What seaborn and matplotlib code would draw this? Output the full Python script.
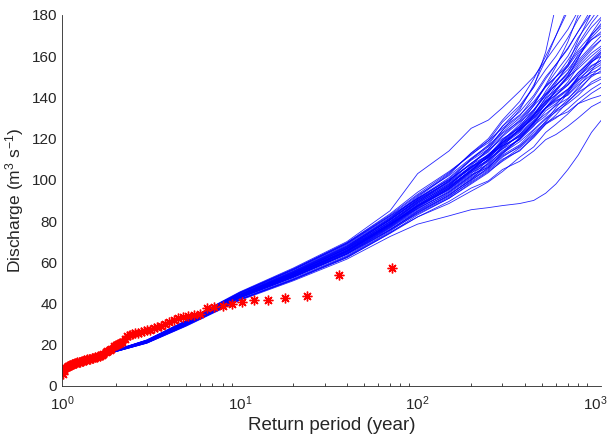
import numpy as np
import pandas as pd
import matplotlib
matplotlib.use("Agg")
import matplotlib.pyplot as plt
import seaborn as sns

obs_T = [72.0, 36.0, 24.0, 18.0, 14.4, 12.0, 10.29, 9.0, 8.0, 7.2,
         6.55, 6.0, 5.54, 5.14, 4.8, 4.5, 4.24, 4.0, 3.79, 3.6,
         3.43, 3.27, 3.13, 3.0, 2.88, 2.77, 2.67, 2.57, 2.48, 2.4,
         2.32, 2.25, 2.18, 2.12, 2.06, 2.0, 1.95, 1.89, 1.85, 1.8,
         1.76, 1.71, 1.67, 1.64, 1.6, 1.57, 1.53, 1.5, 1.47, 1.44,
         1.41, 1.38, 1.36, 1.33, 1.31, 1.29, 1.26, 1.24, 1.22, 1.2,
         1.18, 1.16, 1.14, 1.125, 1.11, 1.09, 1.075, 1.06, 1.04, 1.03, 1.014]
obs_Q = [57.1, 53.9, 43.5, 42.6, 41.8, 41.5, 40.7, 39.7, 38.6, 38.2,
         37.7, 35.0, 34.3, 33.8, 33.4, 33.0, 32.2, 30.8, 30.0, 29.3,
         28.6, 27.9, 27.3, 26.9, 26.5, 26.2, 25.9, 25.6, 25.2, 24.8,
         24.0, 22.8, 21.5, 20.8, 20.2, 19.6, 19.2, 18.0, 17.4, 16.8,
         16.4, 15.6, 15.0, 14.6, 14.4, 14.0, 13.8, 13.6, 13.4, 13.2,
         13.1, 12.9, 12.7, 12.5, 12.3, 12.1, 11.8, 11.6, 11.4, 11.2,
         11.0, 10.8, 10.5, 10.3, 10.0, 9.8, 9.5, 9.2, 8.7, 7.5, 6.0]

# simulated frequency curves: discharge at these return periods
sim_T = [1.3, 2, 3, 5, 10, 20, 40, 70, 100, 150, 200, 250, 300, 375, 450, 525,
         600, 700, 800, 950, 1080]
sim_Q = [
    [12.3, 17.0, 21.4, 30.3, 43.2, 53.6, 65.2, 78.0, 87.0, 95.5, 103.0, 110.0, 115.0, 119.5, 128.0, 134.5, 138.0, 141.5, 147.0, 153.0, 156.0],
    [12.4, 17.2, 21.9, 31.0, 44.5, 55.6, 68.0, 81.0, 90.5, 99.0, 108.0, 113.5, 121.0, 128.0, 134.0, 141.5, 146.0, 151.0, 158.0, 165.0, 170.0],
    [12.1, 16.6, 20.8, 29.2, 41.8, 51.5, 62.3, 74.0, 82.0, 89.5, 96.0, 99.5, 105.0, 109.0, 114.0, 119.5, 122.0, 126.0, 130.0, 135.5, 138.0],
    [12.4, 17.2, 21.8, 30.9, 44.2, 55.3, 67.6, 81.5, 92.0, 103.0, 113.0, 119.0, 128.0, 136.0, 145.0, 153.5, 160.0, 169.0, 178.0, 188.0, 195.0],
    [12.2, 16.8, 21.2, 30.0, 42.9, 53.0, 64.2, 76.5, 85.0, 93.5, 101.0, 106.5, 112.0, 117.0, 124.0, 129.5, 133.0, 137.0, 141.0, 147.5, 150.0],
    [12.5, 17.4, 22.2, 31.6, 45.3, 56.8, 69.5, 83.5, 94.0, 104.0, 112.0, 119.0, 125.0, 131.5, 138.0, 145.5, 150.0, 156.0, 163.0, 170.5, 175.0],
    [12.1, 16.6, 20.7, 29.0, 41.5, 51.0, 61.5, 72.5, 78.5, 82.5, 85.5, 86.5, 87.5, 88.5, 90.0, 93.5, 98.0, 105.0, 112.0, 123.0, 129.0],
    [12.3, 17.0, 21.5, 30.5, 43.6, 54.2, 66.4, 79.5, 88.5, 97.5, 106.0, 111.0, 119.0, 125.5, 132.0, 139.5, 144.0, 150.5, 157.0, 164.0, 168.0],
    [12.3, 17.0, 21.5, 30.4, 43.4, 53.8, 65.5, 78.5, 87.5, 96.0, 104.0, 111.5, 117.0, 123.0, 131.0, 140.0, 147.0, 156.0, 168.0, 181.0, 190.0],
    [12.5, 17.4, 22.3, 31.8, 45.6, 57.2, 70.0, 85.0, 103.0, 114.0, 125.0, 129.0, 135.0, 143.0, 150.0, 158.0, 165.0, 173.0, 182.0, 193.0, 200.0],
    [12.2, 16.8, 21.1, 29.9, 42.6, 52.6, 63.8, 75.8, 84.5, 92.0, 99.0, 104.5, 110.0, 114.0, 121.0, 127.0, 130.0, 134.5, 139.0, 144.0, 147.0],
    [12.4, 17.1, 21.8, 30.8, 44.1, 54.8, 66.6, 78.5, 86.0, 94.0, 102.0, 109.5, 116.0, 125.0, 133.0, 143.0, 150.0, 158.0, 166.0, 176.0, 182.0],
    [12.3, 17.0, 21.4, 30.3, 43.2, 53.4, 65.0, 77.5, 86.5, 95.5, 103.5, 107.5, 114.0, 119.5, 126.0, 133.5, 137.0, 142.5, 148.0, 155.0, 158.0],
    [12.4, 17.3, 22.0, 31.2, 44.8, 55.8, 68.4, 81.5, 91.0, 100.0, 108.0, 114.5, 120.0, 125.0, 132.0, 138.0, 141.0, 146.0, 151.0, 158.0, 162.0],
    [12.1, 16.7, 20.9, 29.4, 41.9, 51.6, 62.6, 74.5, 82.0, 88.5, 94.5, 99.0, 104.0, 111.0, 116.0, 123.0, 127.0, 132.0, 137.0, 142.0, 145.0],
    [12.3, 17.0, 21.5, 30.5, 43.5, 54.0, 66.0, 79.0, 89.0, 99.5, 110.0, 116.0, 124.0, 131.0, 140.0, 149.0, 156.0, 163.5, 172.0, 181.0, 186.0],
    [12.4, 17.1, 21.7, 30.8, 44.0, 54.8, 66.8, 79.8, 89.5, 98.0, 105.5, 111.0, 116.5, 121.0, 127.5, 132.0, 136.0, 139.5, 144.0, 150.0, 153.0],
    [12.2, 16.9, 21.3, 30.1, 42.9, 53.0, 64.5, 77.0, 86.0, 94.0, 101.5, 108.0, 113.5, 120.0, 127.0, 135.0, 141.0, 147.5, 155.0, 161.5, 165.0],
    [12.4, 17.2, 21.8, 30.9, 44.3, 55.2, 67.5, 80.5, 90.5, 100.5, 109.5, 115.0, 122.5, 128.5, 136.0, 142.0, 148.0, 153.5, 160.0, 168.0, 172.0],
    [12.2, 16.8, 21.2, 30.0, 42.7, 52.7, 63.9, 75.5, 83.5, 91.0, 98.5, 104.0, 109.0, 114.5, 120.5, 127.0, 131.5, 138.0, 143.0, 150.5, 155.0],
    [12.3, 17.0, 21.5, 30.4, 43.3, 53.7, 65.3, 78.2, 87.8, 96.5, 104.0, 109.0, 115.5, 121.5, 129.0, 137.0, 143.0, 150.0, 159.0, 170.0, 176.0],
    [12.4, 17.1, 21.7, 30.8, 44.0, 54.8, 67.2, 80.5, 90.0, 98.5, 106.0, 112.5, 118.0, 124.0, 131.0, 138.0, 142.5, 146.5, 152.0, 157.5, 160.0],
    [12.3, 16.9, 21.4, 30.3, 43.2, 53.5, 65.0, 77.8, 87.0, 96.0, 105.0, 111.0, 119.0, 127.0, 136.0, 146.0, 155.0, 167.0, 180.0, 196.0, 205.0],
    [12.5, 17.3, 22.1, 31.4, 45.0, 56.3, 69.0, 82.5, 92.5, 102.0, 110.5, 116.5, 123.0, 130.0, 137.0, 145.0, 150.0, 155.0, 162.0, 168.0, 171.0],
    [12.2, 16.9, 21.3, 30.1, 42.9, 53.0, 64.2, 76.0, 84.0, 91.5, 99.5, 106.0, 113.0, 120.5, 128.0, 135.0, 140.0, 144.0, 150.0, 155.5, 158.0],
    [12.3, 17.0, 21.5, 30.5, 43.5, 54.1, 65.8, 78.8, 88.0, 96.8, 104.8, 109.5, 116.0, 122.0, 128.5, 135.0, 139.0, 143.5, 149.0, 154.0, 157.0],
    [12.3, 17.1, 21.6, 30.6, 43.7, 54.4, 66.8, 81.0, 91.5, 102.5, 113.0, 120.0, 129.0, 138.0, 149.0, 160.0, 170.0, 182.0, 195.0, 208.0, 215.0],
    [12.1, 16.7, 21.0, 29.5, 42.2, 52.1, 63.2, 75.6, 84.8, 92.5, 100.0, 105.0, 111.0, 116.5, 122.0, 127.5, 130.5, 133.0, 137.0, 139.5, 141.0],
    [12.3, 17.0, 21.4, 30.3, 43.2, 53.5, 65.2, 78.0, 87.3, 96.2, 104.5, 111.5, 117.5, 123.5, 131.5, 138.5, 145.5, 152.0, 161.0, 169.0, 174.0],
    [12.5, 17.3, 22.0, 31.3, 45.0, 56.2, 68.8, 82.0, 91.0, 100.0, 107.5, 112.0, 118.5, 124.5, 130.0, 135.0, 139.5, 144.0, 148.5, 152.0, 154.0],
    [12.3, 17.0, 21.5, 30.4, 43.4, 53.9, 65.6, 78.6, 87.6, 97.0, 107.0, 115.0, 124.0, 134.0, 146.0, 158.0, 170.0, 184.0, 200.0, 213.0, 220.0],
    [12.2, 16.9, 21.2, 30.0, 42.8, 52.9, 64.4, 77.2, 86.2, 94.5, 102.0, 107.0, 113.0, 118.5, 124.5, 130.0, 134.0, 138.0, 142.5, 146.5, 149.0],
    [12.4, 17.1, 21.7, 30.7, 43.9, 54.7, 66.8, 79.9, 89.2, 98.0, 106.5, 112.0, 119.5, 126.0, 133.5, 141.0, 146.0, 152.0, 159.0, 171.0, 178.0],
    [12.5, 17.3, 22.1, 31.5, 45.2, 56.5, 69.2, 82.5, 91.0, 101.0, 110.0, 117.0, 126.0, 135.0, 145.0, 162.0, 185.0, 195.0, 200.0, 205.0, 210.0],
    [12.1, 16.7, 21.0, 29.6, 42.0, 51.8, 62.8, 75.0, 84.0, 92.5, 100.5, 105.5, 111.5, 116.0, 123.0, 128.0, 133.5, 139.0, 145.0, 153.0, 160.0],
    [12.3, 17.0, 21.5, 30.5, 43.5, 54.0, 66.0, 79.0, 88.5, 97.5, 105.8, 112.0, 118.0, 124.0, 130.5, 136.5, 141.5, 146.0, 152.0, 158.5, 163.0],
    [12.2, 16.8, 21.2, 29.9, 42.7, 52.8, 64.0, 76.8, 85.5, 93.0, 100.0, 108.5, 115.0, 122.0, 130.0, 137.5, 144.0, 149.0, 156.0, 163.0, 168.0],
    [12.4, 17.2, 21.9, 31.0, 44.5, 55.5, 67.9, 80.8, 89.8, 99.0, 106.5, 110.5, 117.0, 124.5, 131.5, 136.5, 143.5, 150.0, 154.0, 160.0, 164.0],
    [12.1, 16.6, 20.8, 29.3, 41.8, 51.4, 62.2, 74.2, 83.0, 91.0, 98.0, 103.5, 109.5, 115.5, 121.5, 128.5, 135.0, 142.0, 150.0, 157.0, 162.0],
    [12.5, 17.4, 22.2, 31.6, 45.3, 56.7, 69.4, 83.0, 93.0, 103.5, 112.5, 118.0, 126.0, 133.0, 141.0, 150.0, 156.0, 164.0, 172.0, 183.0, 188.0],
    [12.3, 17.0, 21.5, 30.4, 43.4, 53.9, 65.5, 78.4, 87.4, 95.0, 102.5, 106.0, 112.5, 120.0, 126.5, 131.0, 136.5, 143.0, 150.0, 157.0, 161.0],
    [12.2, 16.9, 21.3, 30.1, 43.0, 53.2, 64.8, 77.5, 86.8, 95.5, 104.0, 110.0, 118.0, 126.0, 134.0, 141.0, 148.0, 155.0, 165.0, 174.0, 179.0],
    [12.3, 17.1, 21.6, 30.6, 43.8, 54.5, 66.5, 79.5, 89.0, 97.0, 104.5, 112.0, 116.5, 121.0, 127.5, 135.0, 138.5, 141.0, 146.0, 151.0, 152.0],
    [12.4, 17.2, 21.8, 30.9, 44.2, 55.0, 67.3, 80.5, 90.0, 99.5, 108.0, 114.0, 121.5, 129.0, 137.0, 145.5, 152.5, 160.0, 169.0, 178.0, 185.0],
]

sim = pd.DataFrame([(i, t, q) for i, row in enumerate(sim_Q) for t, q in zip(sim_T, row)],
                   columns=["run", "T", "Q"])
obs = pd.DataFrame({"T": obs_T, "Q": obs_Q})

sns.set_style("white")
plt.rcParams["font.family"] = ["Liberation Sans", "DejaVu Sans"]
plt.rcParams["mathtext.default"] = "regular"

fig = plt.figure(figsize=(6.08, 4.41), dpi=100)
ax = fig.add_axes([0.102, 0.125, 0.8865, 0.841])

sns.lineplot(data=sim, x="T", y="Q", units="run", estimator=None, color="blue",
             lw=0.6, alpha=0.85, ax=ax, legend=False)
ax.plot(obs["T"], obs["Q"], ls="none", marker=(8, 2, 0), color="red",
        ms=7, mew=1.0)

ax.set_xscale("log")
ax.set_xlim(1, 1075)
ax.set_ylim(0, 180)
ax.set_yticks(range(0, 181, 20))
ax.set_xlabel("Return period (year)", fontsize=13.5, color="#262626", labelpad=3)
ax.set_ylabel("Discharge (m$^3$ s$^{-1}$)", fontsize=12.5, color="#262626", labelpad=4)
ax.tick_params(which="both", direction="in", labelsize=11, colors="#262626")
ax.tick_params(which="major", length=4)
ax.tick_params(which="minor", length=2.5, bottom=True)
ax.tick_params(axis="x", pad=6)
for s in ["top", "right"]:
    ax.spines[s].set_visible(False)
for s in ["left", "bottom"]:
    ax.spines[s].set_color("#262626")
    ax.spines[s].set_linewidth(0.6)

fig.savefig("out.png", dpi=100)
